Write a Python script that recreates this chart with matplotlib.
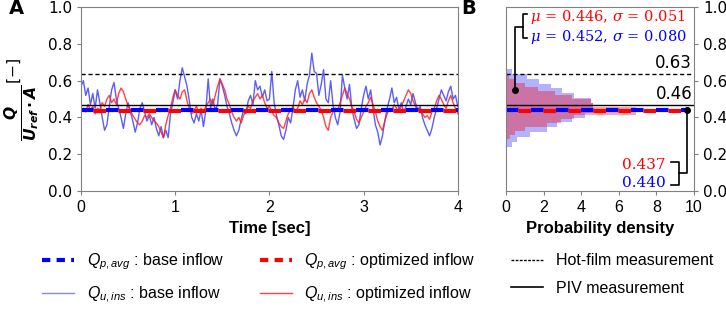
import numpy as np
import matplotlib.pyplot as plt
from matplotlib.lines import Line2D
from matplotlib.font_manager import FontProperties

plt.rcParams['font.family'] = 'DejaVu Sans'
plt.rcParams['mathtext.fontset'] = 'dejavusans'

# instantaneous flow rate, sampled every 0.025 s from 0 to 4 s
time = np.linspace(0, 4, 161)
q_base = [0.57, 0.60, 0.52, 0.56, 0.47, 0.53, 0.45, 0.55, 0.48, 0.40,
          0.33, 0.36, 0.46, 0.55, 0.59, 0.50, 0.45, 0.40, 0.34, 0.42,
          0.48, 0.43, 0.38, 0.32, 0.37, 0.45, 0.48, 0.43, 0.38, 0.41,
          0.36, 0.40, 0.34, 0.30, 0.35, 0.29, 0.33, 0.29, 0.42, 0.48,
          0.55, 0.50, 0.60, 0.67, 0.62, 0.57, 0.49, 0.40, 0.37, 0.42,
          0.38, 0.44, 0.35, 0.44, 0.61, 0.45, 0.50, 0.44, 0.47, 0.61,
          0.57, 0.52, 0.46, 0.42, 0.37, 0.33, 0.30, 0.33, 0.39, 0.44,
          0.42, 0.49, 0.52, 0.47, 0.60, 0.55, 0.57, 0.51, 0.55, 0.49,
          0.50, 0.65, 0.48, 0.41, 0.36, 0.30, 0.28, 0.33, 0.40, 0.37,
          0.45, 0.55, 0.60, 0.51, 0.55, 0.49, 0.58, 0.63, 0.75, 0.65,
          0.64, 0.52, 0.58, 0.66, 0.50, 0.48, 0.60, 0.47, 0.40, 0.36,
          0.43, 0.63, 0.56, 0.50, 0.58, 0.45, 0.39, 0.34, 0.36, 0.45,
          0.52, 0.57, 0.50, 0.55, 0.45, 0.36, 0.32, 0.25, 0.30, 0.38,
          0.45, 0.50, 0.56, 0.48, 0.51, 0.44, 0.48, 0.43, 0.46, 0.50,
          0.47, 0.53, 0.48, 0.44, 0.46, 0.40, 0.36, 0.33, 0.30, 0.34,
          0.40, 0.45, 0.50, 0.55, 0.52, 0.49, 0.54, 0.57, 0.50, 0.52,
          0.46]
q_opt = [0.43, 0.45, 0.43, 0.47, 0.44, 0.46, 0.42, 0.45, 0.44, 0.48,
         0.46, 0.50, 0.52, 0.48, 0.50, 0.47, 0.53, 0.56, 0.54, 0.50,
         0.46, 0.44, 0.41, 0.39, 0.37, 0.36, 0.38, 0.41, 0.40, 0.42,
         0.40, 0.38, 0.37, 0.35, 0.32, 0.29, 0.36, 0.41, 0.45, 0.51,
         0.55, 0.52, 0.50, 0.54, 0.55, 0.49, 0.45, 0.42, 0.44, 0.46,
         0.43, 0.45, 0.43, 0.46, 0.48, 0.50, 0.47, 0.52, 0.57, 0.61,
         0.58, 0.55, 0.50, 0.47, 0.43, 0.40, 0.38, 0.40, 0.37, 0.41,
         0.44, 0.46, 0.45, 0.49, 0.51, 0.53, 0.50, 0.52, 0.48, 0.45,
         0.46, 0.43, 0.41, 0.40, 0.37, 0.35, 0.34, 0.38, 0.42, 0.44,
         0.46, 0.43, 0.45, 0.49, 0.47, 0.50, 0.48, 0.53, 0.55, 0.51,
         0.48, 0.46, 0.44, 0.40, 0.35, 0.33, 0.40, 0.43, 0.45, 0.44,
         0.48, 0.52, 0.56, 0.53, 0.50, 0.46, 0.43, 0.39, 0.37, 0.40,
         0.43, 0.46, 0.48, 0.51, 0.47, 0.43, 0.38, 0.35, 0.33, 0.38,
         0.42, 0.45, 0.44, 0.47, 0.45, 0.43, 0.46, 0.49, 0.52, 0.55,
         0.53, 0.49, 0.46, 0.44, 0.45, 0.42, 0.40, 0.41, 0.39, 0.43,
         0.45, 0.49, 0.52, 0.50, 0.47, 0.45, 0.49, 0.52, 0.48, 0.45,
         0.42]

# averaged values and reference measurements
qp_base = 0.440
qp_opt = 0.437
piv = 0.465
hot_film = 0.635

# histograms (probability density)
base_edges = np.linspace(0.240, 0.664, 17)
base_density = [0.3, 0.6, 1.3, 2.2, 2.7, 3.5, 4.2, 4.6,
                4.6, 4.5, 3.6, 3.0, 2.4, 1.75, 1.1, 0.3]
opt_edges = np.linspace(0.285, 0.629, 17)
opt_density = [0.2, 0.5, 1.0, 2.2, 2.9, 3.6, 6.9, 6.9,
               4.6, 4.5, 3.5, 2.6, 1.7, 1.0, 0.4, 0.15]

stats_opt = r'$\mu$ = 0.446, $\sigma$ = 0.051'
stats_base = r'$\mu$ = 0.452, $\sigma$ = 0.080'

sans = 'Liberation Sans'

fig = plt.figure(figsize=(7.26, 3.10), dpi=100)
ax1 = fig.add_axes([0.1116, 0.384, 0.519, 0.593])
ax2 = fig.add_axes([0.697, 0.384, 0.259, 0.593])

# Panel A: time series
ax1.plot(time, q_base, color='#3333ff', lw=1, alpha=0.8)
ax1.plot(time, q_opt, color='#ff2222', lw=1, alpha=0.85)
ax1.axhline(hot_film, color='k', lw=1, ls=(0, (3, 2)))
ax1.axhline(piv, color='k', lw=1)
ax1.axhline(qp_base, color='blue', lw=3, ls=(0, (3, 3)))
ax1.axhline(qp_opt, color='red', lw=3, ls=(3, (3, 3)))
ax1.set_xlim(0, 4)
ax1.set_ylim(0, 1)
ax1.set_xticks([0, 1, 2, 3, 4])
ax1.set_yticks(np.arange(0, 1.01, 0.2))
ax1.set_xlabel('Time [sec]', fontsize=12, fontweight='bold', family=sans)
ax1.set_ylabel(r'$\mathbfit{\frac{Q}{U_{ref}\cdot A}}^{[-]}$', fontsize=16)

# Panel B: histograms
ax2.barh(base_edges[:-1], base_density, height=np.diff(base_edges), align='edge',
         color='blue', alpha=0.3, lw=0)
ax2.barh(opt_edges[:-1], opt_density, height=np.diff(opt_edges), align='edge',
         color='red', alpha=0.35, lw=0)
ax2.axhline(hot_film, color='k', lw=1, ls=(0, (3, 2)))
ax2.axhline(piv, color='k', lw=1)
ax2.plot([0, 9.65], [qp_base, qp_base], color='blue', lw=3, ls=(0, (3, 3)))
ax2.plot([0, 9.65], [qp_opt, qp_opt], color='red', lw=3, ls=(3, (3, 3)))
ax2.text(9.9, hot_film + 0.012, '0.63', ha='right', va='bottom', fontsize=12)
ax2.text(9.9, piv + 0.012, '0.46', ha='right', va='bottom', fontsize=12)

# stats annotation (top)
ax2.text(1.25, 0.945, stats_opt, color='red', fontsize=10.5, va='center',
         family='DejaVu Serif', math_fontfamily='dejavuserif')
ax2.text(1.25, 0.84, stats_base, color='blue', fontsize=10.5, va='center',
         family='DejaVu Serif', math_fontfamily='dejavuserif')
ax2.plot([1.1, 0.9, 0.9, 1.1], [0.96, 0.96, 0.83, 0.83], color='k', lw=1.2)
ax2.plot([0.9, 0.5, 0.5], [0.89, 0.89, 0.55], color='k', lw=1.2)
ax2.plot([0.5], [0.55], 'ko', ms=4)

# mean annotation (bottom right)
ax2.text(8.5, 0.14, f'{qp_opt:.3f}', color='red', fontsize=11, ha='right', va='center',
         family='DejaVu Serif')
ax2.text(8.5, 0.045, f'{qp_base:.3f}', color='blue', fontsize=11, ha='right', va='center',
         family='DejaVu Serif')
ax2.plot([8.8, 9.2, 9.2, 8.8], [0.16, 0.16, 0.035, 0.035], color='k', lw=1.2)
ax2.plot([9.2, 9.65, 9.65], [0.1, 0.1, qp_base], color='k', lw=1.2)
ax2.plot([9.65], [qp_base], 'ko', ms=4)

ax2.set_xlim(0, 10)
ax2.set_ylim(0, 1)
ax2.set_xticks(np.arange(0, 11, 2))
ax2.set_yticks(np.arange(0, 1.01, 0.2))
ax2.yaxis.tick_right()
ax2.set_xlabel('Probability density', fontsize=12, fontweight='bold', family=sans)

for ax in (ax1, ax2):
    for s in ax.spines.values():
        s.set_color('0.5')
    ax.tick_params(colors='0.5', labelcolor='k', labelsize=11, length=3)
    for lab in ax.get_xticklabels():
        lab.set_family(sans)
        lab.set_fontsize(11.5)

fig.text(0.012, 0.955, 'A', fontsize=14, fontweight='bold')
fig.text(0.635, 0.955, 'B', fontsize=14, fontweight='bold')

# legend
plt.rcParams['mathtext.fontset'] = 'custom'
plt.rcParams['mathtext.it'] = sans + ':italic'
plt.rcParams['mathtext.rm'] = sans
handles = [
    Line2D([], [], color='blue', lw=3, ls=(0, (2, 1.5))),
    Line2D([], [], color='#3333ff', lw=1, alpha=0.6),
    Line2D([], [], color='red', lw=3, ls=(0, (2, 1.5))),
    Line2D([], [], color='#ff2222', lw=1, alpha=0.85),
    Line2D([], [], color='k', lw=1, ls=(0, (2, 1))),
    Line2D([], [], color='k', lw=1.2),
]
labels = [r'$Q_{p,avg}$ : base inflow', r'$Q_{u,ins}$ : base inflow',
          r'$Q_{p,avg}$ : optimized inflow', r'$Q_{u,ins}$ : optimized inflow',
          'Hot-film measurement', 'PIV measurement']
prop = FontProperties(family=sans, size=11.5, math_fontfamily='custom')
fig.legend(handles, labels, ncol=3, loc='lower center', bbox_to_anchor=(0.52, -0.03),
           frameon=False, prop=prop, handlelength=2.0, columnspacing=2.2,
           labelspacing=0.8, handletextpad=0.8)

fig.savefig('out.png', dpi=100)
